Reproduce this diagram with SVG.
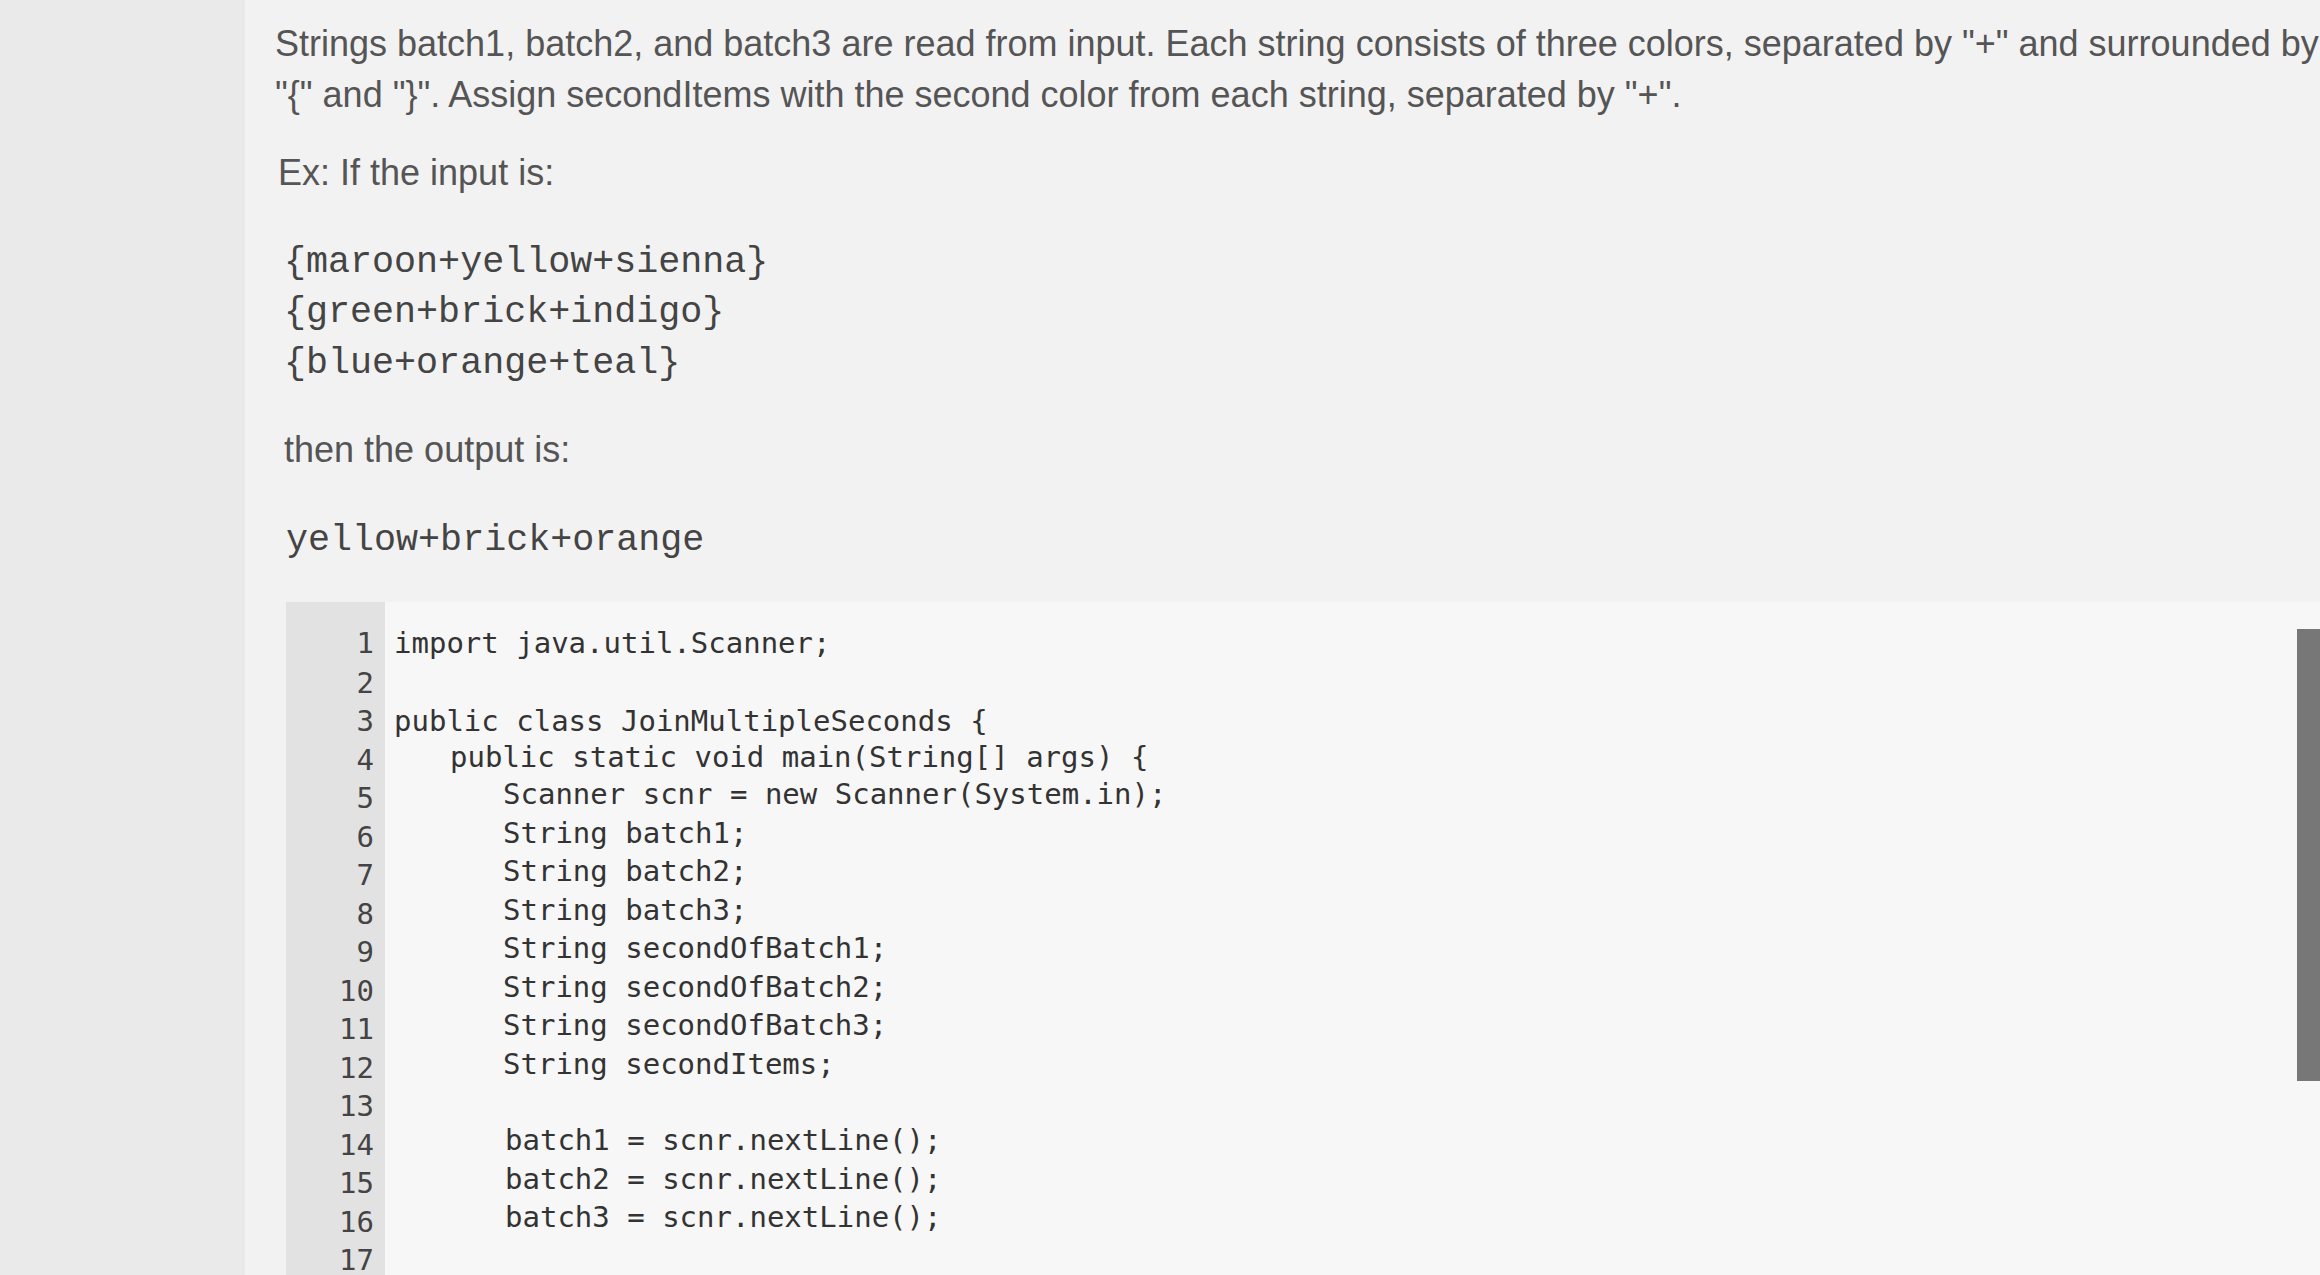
<svg xmlns="http://www.w3.org/2000/svg" width="2320" height="1275" viewBox="0 0 2320 1275">
<style>
.p{font-family:"Liberation Sans",Arial,sans-serif;font-size:36px;fill:#555}
.m{font-family:"Liberation Mono","DejaVu Sans Mono",monospace;font-size:36.7px;fill:#444}
.c{font-family:"DejaVu Sans Mono",monospace;font-size:29px;fill:#333}
.n{font-family:"DejaVu Sans Mono",monospace;font-size:29px;fill:#444;text-anchor:end}
</style>
<rect width="2320" height="1275" fill="#eaeaea"/>
<rect x="245" y="0" width="2075" height="1275" fill="#f2f2f2"/>
<g id="text">
<text class="p" x="275" y="56">Strings batch1, batch2, and batch3 are read from input. Each string consists of three colors, separated by "+" and surrounded by</text>
<text class="p" x="275" y="107">"{" and "}". Assign secondItems with the second color from each string, separated by "+".</text>
<text class="p" x="278" y="185">Ex: If the input is:</text>
<text class="m" x="284" y="272">{maroon+yellow+sienna}</text>
<text class="m" x="284" y="322">{green+brick+indigo}</text>
<text class="m" x="284" y="373">{blue+orange+teal}</text>
<text class="p" x="284" y="462">then the output is:</text>
<text class="m" x="286" y="550">yellow+brick+orange</text>
</g>
<g id="editor">
<rect x="286" y="602" width="2034" height="673" fill="#f7f7f7"/>
<rect x="286" y="602" width="99" height="673" fill="#e2e2e2"/>
<rect x="2297" y="629" width="23" height="452" fill="#777"/>
<text class="n" x="374" y="653">1</text><text class="c" x="394" y="653">import java.util.Scanner;</text>
<text class="n" x="374" y="693">2</text>
<text class="n" x="374" y="731">3</text><text class="c" x="394" y="731">public class JoinMultipleSeconds {</text>
<text class="n" x="374" y="770">4</text><text class="c" x="450" y="767">public static void main(String[] args) {</text>
<text class="n" x="374" y="808">5</text><text class="c" x="503" y="804">Scanner scnr = new Scanner(System.in);</text>
<text class="n" x="374" y="847">6</text><text class="c" x="503" y="843">String batch1;</text>
<text class="n" x="374" y="885">7</text><text class="c" x="503" y="881">String batch2;</text>
<text class="n" x="374" y="924">8</text><text class="c" x="503" y="920">String batch3;</text>
<text class="n" x="374" y="962">9</text><text class="c" x="503" y="958">String secondOfBatch1;</text>
<text class="n" x="374" y="1001">10</text><text class="c" x="503" y="997">String secondOfBatch2;</text>
<text class="n" x="374" y="1039">11</text><text class="c" x="503" y="1035">String secondOfBatch3;</text>
<text class="n" x="374" y="1078">12</text><text class="c" x="503" y="1074">String secondItems;</text>
<text class="n" x="374" y="1116">13</text>
<text class="n" x="374" y="1155">14</text><text class="c" x="505" y="1150">batch1 = scnr.nextLine();</text>
<text class="n" x="374" y="1193">15</text><text class="c" x="505" y="1189">batch2 = scnr.nextLine();</text>
<text class="n" x="374" y="1232">16</text><text class="c" x="505" y="1227">batch3 = scnr.nextLine();</text>
<text class="n" x="374" y="1270">17</text>
</g>
</svg>
